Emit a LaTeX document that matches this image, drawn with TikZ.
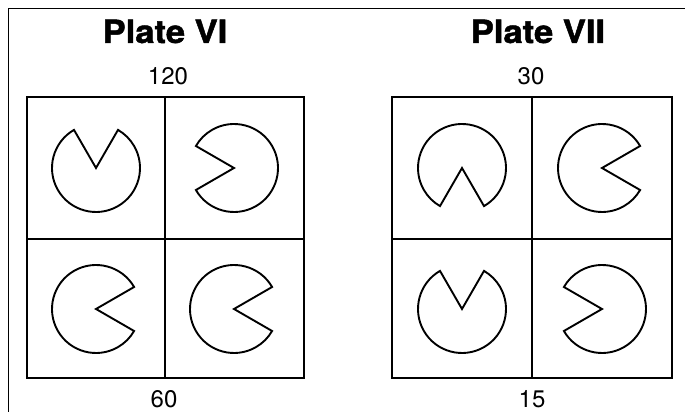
\documentclass[tikz,border=0pt]{standalone}
\usepackage{fontspec}
\setmainfont{TeX Gyre Heros}[BoldFeatures={FakeBold=1.4}]
\usepackage{tikz}

\tikzset{
  platebox/.style={line width=2.2pt},
  pac/.style={line width=1.9pt,line join=miter},
  frame/.style={line width=1pt},
  title/.style={anchor=base,inner sep=0pt,font=\fontsize{32}{38}\selectfont\bfseries},
  num/.style={anchor=base,inner sep=0pt,font=\fontsize{24}{28}\selectfont}
}

\begin{document}
\begin{tikzpicture}[x=1pt,y=1pt]
  \useasboundingbox (0,0) rectangle (685,412);
  \draw[frame] (8,0) -- (8,403) -- (685,403);
  % plate VI
  \draw[platebox] (27,34) rectangle (304,315);
  \draw[platebox] (165,34) -- (165,315) (27,173) -- (304,173);
  \node[title] (titleVI) at (165,369) {\scalebox{1.08}[1]{Plate VI}};
  \node[num] (topVI) at (168,327) {120};
  \node[num] (botVI) at (164,4) {60};
  % plate VII
  \draw[platebox] (392,34) rectangle (672,315);
  \draw[platebox] (532,34) -- (532,315) (392,173) -- (672,173);
  \node[title] (titleVII) at (538,369) {\scalebox{1.08}[1]{Plate VII}};
  \node[num] (topVII) at (531,327) {30};
  \node[num] (botVII) at (532,4) {15};
  % the pacmen, mouth direction in degrees
  \foreach \cx/\cy/\d in {96/244/90, 234/244/180, 96/103/0, 234/103/0,
                          462/244/270, 602/244/0, 462/103/90, 602/103/180}
    \draw[pac] (\cx,\cy) -- ++(\d+30:44) arc[start angle=\d+30,end angle=\d+330,radius=44] -- cycle;
\end{tikzpicture}
\end{document}
